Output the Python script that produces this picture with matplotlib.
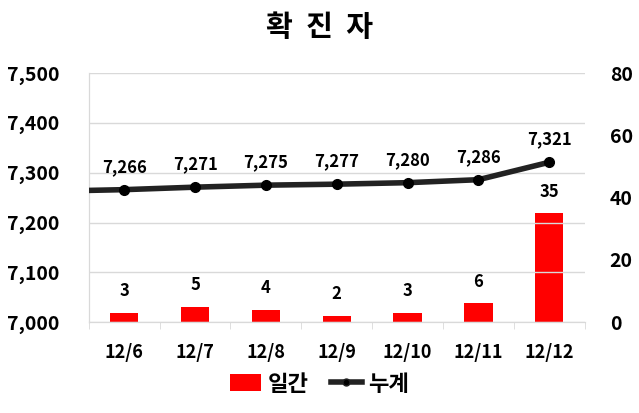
import matplotlib
matplotlib.use("Agg")
import matplotlib.pyplot as plt
from matplotlib.lines import Line2D
from matplotlib.patches import Patch

plt.rcParams['font.family'] = ['Noto Sans CJK KR', 'DejaVu Sans']

dates = ['12/6', '12/7', '12/8', '12/9', '12/10', '12/11', '12/12']
daily = [3, 5, 4, 2, 3, 6, 35]
total = [7266, 7271, 7275, 7277, 7280, 7286, 7321]
prev_total = 7263  # 12/5, only the stub of line at the left edge

fig = plt.figure(figsize=(6.39, 4.13), dpi=100)
ax = fig.add_axes([0.139, 0.220, 0.776, 0.603])
ax2 = ax.twinx()

x = list(range(len(dates)))

# bars on the right axis
ax2.bar(x, daily, width=0.4, color='#ff0000', zorder=2)
for xi, v in zip(x, daily):
    ax2.annotate(str(v), (xi, v), xytext=(0, 9), textcoords='offset points',
                 ha='center', va='bottom', fontsize=12, fontweight='bold')

# cumulative line on the left axis
ax.plot([-1] + x, [prev_total] + total, color='#222222', lw=4,
        marker='o', markersize=7, markerfacecolor='black',
        markeredgecolor='black', zorder=3, clip_on=True)
for xi, v in zip(x, total):
    ax.annotate(f'{v:,}', (xi, v), xytext=(0, 10), textcoords='offset points',
                ha='center', va='bottom', fontsize=12, fontweight='bold')

ax.set_xlim(-0.5, len(dates) - 0.5)
ax.set_ylim(7000, 7500)
ax.set_yticks(range(7000, 7501, 100))
ax.set_yticklabels([f'{v:,}' for v in range(7000, 7501, 100)])
ax2.set_ylim(0, 80)
ax2.set_yticks(range(0, 81, 20))

ax.grid(axis='y', color='#d9d9d9', lw=1)
ax.set_axisbelow(True)
ax.set_zorder(ax2.get_zorder() + 1)
ax.patch.set_visible(False)

ax.set_xticks(x)
ax.set_xticklabels(dates, fontsize=13, fontweight='bold')
ax.set_xticks([i + 0.5 for i in range(-1, len(dates))], minor=True)
ax.tick_params(axis='x', which='major', length=0, pad=15)
ax.tick_params(axis='x', which='minor', length=5, color='#d9d9d9')
ax.tick_params(axis='y', length=0, pad=21, labelsize=14)
ax2.tick_params(axis='y', length=0, pad=18, labelsize=14)
for t in ax.get_yticklabels() + ax2.get_yticklabels():
    t.set_fontweight('bold')

for a in (ax, ax2):
    a.spines['top'].set_visible(False)
    a.spines['right'].set_visible(False)
    a.spines['left'].set_color('#d9d9d9')
    a.spines['bottom'].set_color('#d9d9d9')

fig.text(0.5, 0.935, '확  진  자', ha='center', va='center', fontsize=21,
         fontweight='bold')

handles = [Patch(facecolor='#ff0000', edgecolor='none'),
           Line2D([0], [0], color='#222222', lw=4, marker='o', markersize=5,
                  markerfacecolor='black')]
fig.legend(handles, ['일간', '누계'], loc='center', bbox_to_anchor=(0.5, 0.07),
           ncol=2, frameon=False, handlelength=1.4, handleheight=0.8,
           handletextpad=0.3, columnspacing=1.0,
           prop={'weight': 'bold', 'size': 16})

fig.savefig('out.png', dpi=100)
